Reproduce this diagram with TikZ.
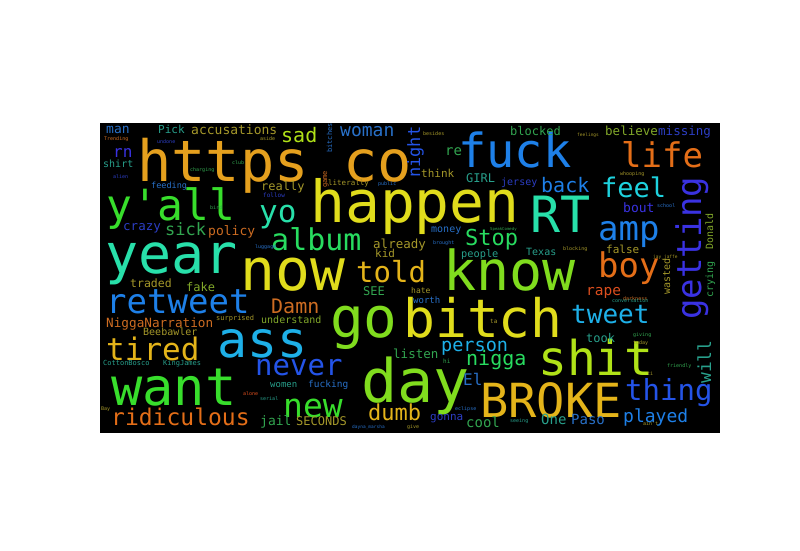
\documentclass[tikz,border=0pt]{standalone}
\usepackage{fontspec}
\newfontfamily\cloudfont{DejaVu Sans Mono}
\usepackage{tikz}
\usetikzlibrary{positioning}

\definecolor{Gold}{RGB}{229,160,30}
\definecolor{Amber}{RGB}{228,180,26}
\definecolor{Orange}{RGB}{228,110,24}
\definecolor{Rust}{RGB}{205,108,34}
\definecolor{Red}{RGB}{220,78,30}
\definecolor{Yellow}{RGB}{224,220,28}
\definecolor{YGreen}{RGB}{176,226,24}
\definecolor{Lime}{RGB}{128,220,30}
\definecolor{Green}{RGB}{56,222,44}
\definecolor{Mint}{RGB}{40,220,96}
\definecolor{Teal}{RGB}{40,224,170}
\definecolor{Cyan}{RGB}{30,210,222}
\definecolor{Sky}{RGB}{30,176,232}
\definecolor{Blue}{RGB}{30,128,232}
\definecolor{Royal}{RGB}{36,84,232}
\definecolor{Indigo}{RGB}{58,50,226}
\definecolor{Olive}{RGB}{165,152,42}
\definecolor{OGreen}{RGB}{130,168,42}
\definecolor{DGreen}{RGB}{50,165,80}
\definecolor{DTeal}{RGB}{40,160,140}
\definecolor{Steel}{RGB}{40,112,200}
\definecolor{Navy}{RGB}{44,62,196}

\newcommand{\fs}[1]{\fontsize{#1}{#1}\selectfont}

\begin{document}
\begin{tikzpicture}[x=1pt, y=-1pt]
		\tikzstyle{Word} 	= [anchor=base west, inner sep=0pt, font=\cloudfont]
		\tikzstyle{Up}		= [rotate=90]

		\useasboundingbox [fill=white] (0,0) rectangle (800,550);
		\fill [black] (100,123) rectangle (720,433);

		% big words
		\node (https) at (137,181) [Word][Gold] {\fs{57}https co};
		\node (fuck) at (458,167) [Word][Blue] {\fs{47}fuck};
		\node (happen) at (310,222) [Word][Yellow] {\fs{58}happen};
		\node (RT) at (530,232) [Word][Teal] {\fs{50}RT};
		\node (year) at (105,273) [Word][Teal] {\fs{55}year};
		\node (now) at (240,290) [Word][Yellow] {\fs{58}now};
		\node (know) at (443,290) [Word][Lime] {\fs{55}know};
		\node (yall) at (106,220) [Word][Green] {\fs{43}y'all};
		\node (go) at (330,337) [Word][Lime] {\fs{56}go};
		\node (bitch) at (403,337) [Word][Yellow] {\fs{53}bitch};
		\node (ass) at (217,357) [Word][Sky] {\fs{50}ass};
		\node (want) at (111,405) [Word][Green] {\fs{52}want};
		\node (day) at (361,402) [Word][Lime] {\fs{60}day};
		\node (shit) at (538,375) [Word][YGreen] {\fs{48}shit};
		\node (BROKE) at (480,417) [Word][Amber] {\fs{47}BROKE};
		\node (getting) at (701,320) [Word][Up][Indigo] {\fs{34}getting};

		% middle words
		\node (retweet) at (106,313) [Word][Blue] {\fs{34}retweet};
		\node (tired) at (106,360) [Word][Amber] {\fs{31}tired};
		\node (ridiculous) at (111,425) [Word][Orange] {\fs{23}ridiculous};
		\node (life) at (621,167) [Word][Orange] {\fs{34}life};
		\node (feel) at (601,197) [Word][Cyan] {\fs{27}feel};
		\node (amp) at (598,240) [Word][Blue] {\fs{34}amp};
		\node (boy) at (598,277) [Word][Orange] {\fs{34}boy};
		\node (told) at (356,282) [Word][Amber] {\fs{29}told};
		\node (album) at (271,250) [Word][Mint] {\fs{30}album};
		\node (yo) at (259,222) [Word][Teal] {\fs{31}yo};
		\node (sad) at (281,142) [Word][YGreen] {\fs{20}sad};
		\node (tweet) at (571,323) [Word][Sky] {\fs{26}tweet};
		\node (thing) at (625,400) [Word][Royal] {\fs{29}thing};
		\node (played) at (623,422) [Word][Blue] {\fs{18}played};
		\node (never) at (255,375) [Word][Royal] {\fs{29}never};
		\node (new) at (283,417) [Word][Green] {\fs{33}new};
		\node (dumb) at (368,420) [Word][Amber] {\fs{22}dumb};
		\node (person) at (441,351) [Word][Sky] {\fs{18.5}person};
		\node (nigga) at (466,365) [Word][Mint] {\fs{20}nigga};
		\node (Stop) at (465,245) [Word][Mint] {\fs{22}Stop};
		\node (woman) at (340,136) [Word][Steel] {\fs{18}woman};
		\node (night) at (420,178) [Word][Up][Royal] {\fs{17}night};
		\node (Damn) at (271,313) [Word][Rust] {\fs{20}Damn};
		\node (back) at (541,192) [Word][Blue] {\fs{20}back};
		\node (will) at (711,384) [Word][Up][DTeal] {\fs{18}will};
		\node (rape) at (586,295) [Word][Red] {\fs{14.5}rape};
		\node (El) at (463,385) [Word][Steel] {\fs{16}El};
		\node (sick) at (165,235) [Word][DGreen] {\fs{17}sick};
		\node (rn) at (113,157) [Word][Indigo] {\fs{16}rn};

		% small words
		\node (policy) at (208,235) [Word][Rust] {\fs{13}policy};
		\node (crazy) at (123,230) [Word][Navy] {\fs{12.5}crazy};
		\node (accusations) at (191,134) [Word][Olive] {\fs{13}accusations};
		\node (really) at (261,190) [Word][Olive] {\fs{12}really};
		\node (man) at (106,133) [Word][Steel] {\fs{13}man};
		\node (Pick) at (158,133) [Word][DTeal] {\fs{11}Pick};
		\node (shirt) at (103,167) [Word][DTeal] {\fs{10}shirt};
		\node (feeding) at (151,188) [Word][Steel] {\fs{8.5}feeding};
		\node (blocked) at (510,135) [Word][DGreen] {\fs{12}blocked};
		\node (believe) at (605,135) [Word][OGreen] {\fs{12.5}believe};
		\node (missing) at (658,135) [Word][Navy] {\fs{12.5}missing};
		\node (bout) at (623,212) [Word][Indigo] {\fs{13}bout};
		\node (false) at (606,253) [Word][Olive] {\fs{11}false};
		\node (Texas) at (526,255) [Word][DTeal] {\fs{10}Texas};
		\node (people) at (461,257) [Word][DTeal] {\fs{10.3}people};
		\node (money) at (431,232) [Word][Steel] {\fs{10}money};
		\node (already) at (373,248) [Word][Olive] {\fs{12.5}already};
		\node (kid) at (375,257) [Word][Olive] {\fs{11}kid};
		\node (think) at (421,177) [Word][Olive] {\fs{11}think};
		\node (GIRL) at (466,182) [Word][DTeal] {\fs{12}GIRL};
		\node (jersey) at (501,185) [Word][Navy] {\fs{10}jersey};
		\node (re) at (445,155) [Word][DGreen] {\fs{14}re};
		\node (literally) at (328,185) [Word][Olive] {\fs{7.5}literally};
		\node (traded) at (130,287) [Word][Olive] {\fs{11.5}traded};
		\node (fake) at (186,291) [Word][OGreen] {\fs{12}fake};
		\node (NiggaNarration) at (106,327) [Word][Rust] {\fs{12.7}NiggaNarration};
		\node (Beebawler) at (143,335) [Word][Olive] {\fs{10}Beebawler};
		\node (understand) at (261,323) [Word][OGreen] {\fs{10}understand};
		\node (SEE) at (363,295) [Word][DGreen] {\fs{12}SEE};
		\node (listen) at (393,358) [Word][DGreen] {\fs{12.5}listen};
		\node (women) at (270,387) [Word][DTeal] {\fs{9}women};
		\node (fucking) at (308,387) [Word][Steel] {\fs{9.5}fucking};
		\node (jail) at (260,425) [Word][DGreen] {\fs{13}jail};
		\node (SECONDS) at (296,425) [Word][Olive] {\fs{12}SECONDS};
		\node (gonna) at (430,420) [Word][Navy] {\fs{11}gonna};
		\node (cool) at (466,427) [Word][DGreen] {\fs{14}cool};
		\node (took) at (586,342) [Word][DTeal] {\fs{12}took};
		\node (One) at (541,424) [Word][DTeal] {\fs{14}One};
		\node (Paso) at (571,424) [Word][Steel] {\fs{14}Paso};
		\node (Donald) at (713,250) [Word][Up][OGreen] {\fs{10}Donald};
		\node (crying) at (713,298) [Word][Up][DGreen] {\fs{10}crying};
		\node (wasted) at (670,295) [Word][Up][Olive] {\fs{10}wasted};
		\node (hate) at (411,293) [Word][Olive] {\fs{8}hate};
		\node (worth) at (413,303) [Word][Steel] {\fs{9}worth};
		\node (KingJames) at (163,365) [Word][DTeal] {\fs{7}KingJames};
		\node (CottonBosco) at (103,365) [Word][DTeal] {\fs{7}CottonBosco};
		\node (surprised) at (216,320) [Word][Olive] {\fs{7}surprised};
		\node (bitches) at (332,153) [Word][Up][Steel] {\fs{7}bitches};
		\node (game) at (327,188) [Word][Up][Rust] {\fs{7}game};

		% tiny words
		\node (Trending) at (104,140) [Word][Rust] {\fs{5}Trending};
		\node (undone) at (157,143) [Word][Navy] {\fs{5}undone};
		\node (aside) at (260,140) [Word][Olive] {\fs{5}aside};
		\node (club) at (232,164) [Word][DGreen] {\fs{5}club};
		\node (charging) at (190,171) [Word][DGreen] {\fs{5}charging};
		\node (alien) at (113,178) [Word][Navy] {\fs{5}alien};
		\node (bird) at (210,209) [Word][DGreen] {\fs{5}bird};
		\node (follow) at (263,197) [Word][Navy] {\fs{6}follow};
		\node (luggage) at (255,248) [Word][Steel] {\fs{5}luggage};
		\node (besides) at (423,135) [Word][Olive] {\fs{5}besides};
		\node (public) at (378,185) [Word][Steel] {\fs{5}public};
		\node (brought) at (433,244) [Word][Steel] {\fs{5}brought};
		\node (blocking) at (563,250) [Word][Olive] {\fs{5}blocking};
		\node (feelings) at (577,136) [Word][Olive] {\fs{4.5}feelings};
		\node (whooping) at (620,175) [Word][Olive] {\fs{5}whooping};
		\node (school) at (657,207) [Word][Steel] {\fs{5}school};
		\node (darkness) at (623,300) [Word][Rust] {\fs{5}darkness};
		\node (conversation) at (612,302) [Word][DTeal] {\fs{5}conversation};
		\node (giving) at (633,336) [Word][DGreen] {\fs{5}giving};
		\node (today) at (633,344) [Word][Olive] {\fs{5}today};
		\node (friendly) at (667,367) [Word][DGreen] {\fs{5}friendly};
		\node (ti) at (647,375) [Word][Olive] {\fs{5}ti};
		\node (seeing) at (510,422) [Word][DTeal] {\fs{5}seeing};
		\node (aint) at (643,425) [Word][Olive] {\fs{5}ain't};
		\node (hi) at (443,363) [Word][DGreen] {\fs{6}hi};
		\node (ta) at (490,323) [Word][Olive] {\fs{6}ta};
		\node (eclipse) at (455,410) [Word][Steel] {\fs{5}eclipse};
		\node (dayna) at (352,428) [Word][Steel] {\fs{4.5}dayna\_marsha};
		\node (give) at (407,428) [Word][Olive] {\fs{5}give};
		\node (serial) at (260,400) [Word][DTeal] {\fs{5}serial};
		\node (alone) at (243,395) [Word][Red] {\fs{5}alone};
		\node (Bay) at (101,410) [Word][Olive] {\fs{5}Bay};
		\node (SpeakComedy) at (490,230) [Word][DGreen] {\fs{4}SpeakComedy};
		\node (jayjaffe) at (653,258) [Word][Olive] {\fs{4.5}jay\_jaffe};
	\end{tikzpicture}
\end{document}
